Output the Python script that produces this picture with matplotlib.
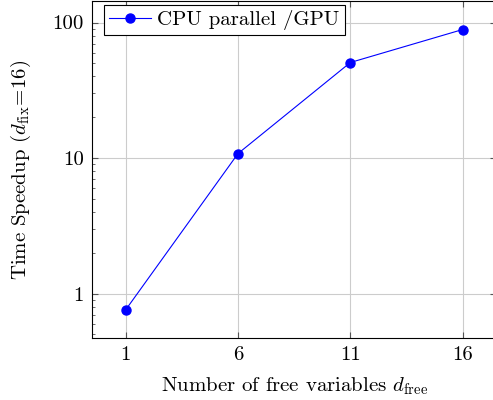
import numpy as np
import matplotlib
matplotlib.use('Agg')
import matplotlib.pyplot as plt
from matplotlib.ticker import LogLocator, NullFormatter, FixedLocator

plt.rcParams['font.family'] = ['cmr10', 'DejaVu Serif']
plt.rcParams['mathtext.fontset'] = 'cm'
plt.rcParams['axes.formatter.use_mathtext'] = True

# data
free_vars = [1, 6, 11, 16]
speedup = [0.76, 10.8, 50.7, 88.8]
x_ticks = [1, 6, 11, 16]
y_ticks = [1, 10, 100]
y_tick_labels = ['1', '10', '100']

fig = plt.figure(figsize=(4.93, 4.0), dpi=100)
ax = fig.add_axes([92 / 493, 1 - 337.7 / 400, (496.4 - 92) / 493, (337.7 - 1.5) / 400])

ax.plot(free_vars, speedup, color='#0000ff', lw=0.8, marker='o', markersize=6.5,
        label='CPU parallel /GPU')

ax.set_yscale('log')
ax.set_xlim(-0.5, 17.5)
ax.set_ylim(10 ** -0.325, 10 ** 2.155)

ax.set_xticks(x_ticks)
ax.set_xticklabels([str(v) for v in x_ticks])
ax.yaxis.set_major_locator(FixedLocator(y_ticks))
ax.set_yticklabels(y_tick_labels)
ax.yaxis.set_minor_locator(LogLocator(base=10, subs=np.arange(2, 10)))
ax.yaxis.set_minor_formatter(NullFormatter())

ax.grid(True, which='major', color='#cccccc', lw=0.8)
ax.set_axisbelow(True)
ax.tick_params(which='both', direction='in', top=True, right=True, labelsize=15, pad=6)
ax.tick_params(which='major', length=4, color='#555555')
ax.tick_params(which='minor', length=2.5, color='#555555')
for s in ax.spines.values():
    s.set_linewidth(0.8)

ax.set_xlabel(r'Number of free variables $d_{\mathrm{free}}$', fontsize=15, labelpad=8)
ax.set_ylabel(r'Time Speedup $(d_{\mathrm{fix}}\!=\!16)$', fontsize=15, labelpad=14)

leg = ax.legend(loc='upper left', bbox_to_anchor=(0.03, 0.99), fontsize=15, frameon=True,
                fancybox=False, edgecolor='black', framealpha=1, borderpad=0.25,
                handlelength=2.0, handletextpad=0.3, borderaxespad=0)
leg.get_frame().set_linewidth(0.8)

fig.savefig('out.png', dpi=100)
